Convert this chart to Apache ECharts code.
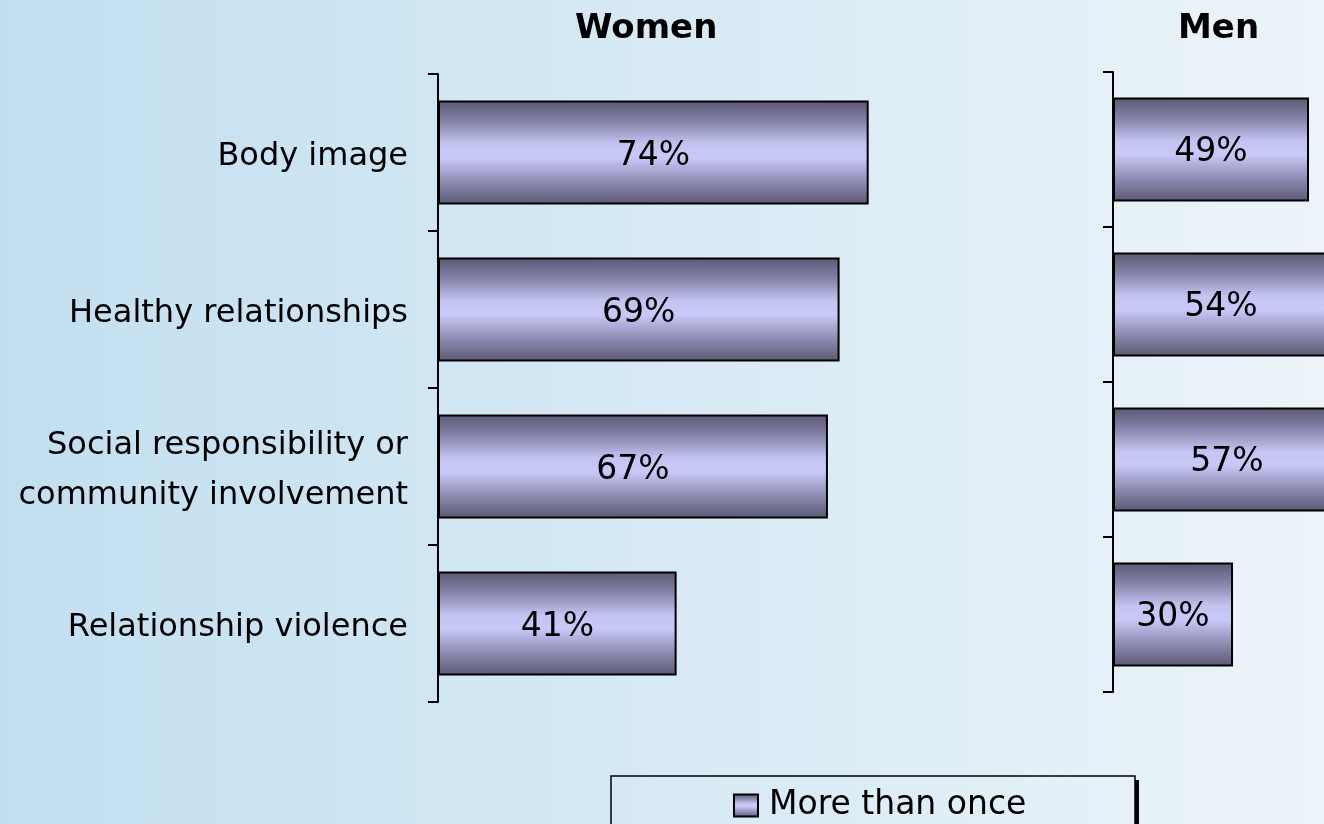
<!DOCTYPE html>
<html>
<head>
<meta charset="utf-8">
<title>More than once</title>
<script src="https://cdn.jsdelivr.net/npm/echarts@6/dist/echarts.min.js"></script>
<style>
  html, body { margin: 0; padding: 0; }
  #chart { width: 1324px; height: 824px; }
</style>
</head>
<body>
<div id="chart"></div>
<script>
// Topics, top to bottom
const categories = [
  'Body image',
  'Healthy relationships',
  'Social responsibility or\ncommunity involvement',
  'Relationship violence'
];
const panelTitles = ['Women', 'Men'];
const seriesName = 'More than once';
const womenValues = [74, 69, 67, 41];
const menValues = [49, 54, 57, 30];

const FONT = 'DejaVu Sans';

const barFill = new echarts.graphic.LinearGradient(0, 0, 0, 1, [
  { offset: 0, color: '#5a5872' },
  { offset: 0.2, color: '#8483a8' },
  { offset: 0.42, color: '#c4c4f2' },
  { offset: 0.55, color: '#c9c9f9' },
  { offset: 0.78, color: '#8d8cb2' },
  { offset: 1, color: '#5a5872' }
]);

function catAxis(gridIndex, showLabels) {
  return {
    type: 'category',
    gridIndex: gridIndex,
    data: categories,
    inverse: true,
    axisLine: { show: true, lineStyle: { color: '#000', width: 2 } },
    axisTick: { show: true, length: 10, lineStyle: { color: '#000', width: 2 } },
    axisLabel: {
      show: showLabels,
      margin: 30,
      align: 'right',
      // each line sits a little below the line box centre
      formatter: function (v) {
        return v.split('\n').map(function (s) { return '{t|' + s + '}'; }).join('\n');
      },
      rich: {
        t: {
          color: '#000',
          fontFamily: FONT,
          fontSize: 32,
          lineHeight: 50,
          padding: [8, 0, 0, 0],
          align: 'right'
        }
      }
    }
  };
}

// Women: 0-100 over 582px; Men: same 4px-per-point scale, running off the right edge
function valAxis(gridIndex, max) {
  return {
    type: 'value',
    gridIndex: gridIndex,
    min: 0,
    max: max,
    show: false,
    splitLine: { show: false }
  };
}

function barSeries(idx, values, dy) {
  return {
    name: seriesName,
    type: 'bar',
    xAxisIndex: idx,
    yAxisIndex: idx,
    data: values,
    barWidth: 104,
    clip: false,
    itemStyle: { color: barFill, borderColor: '#000', borderWidth: 2 },
    label: {
      show: true,
      position: 'inside',
      offset: [0, dy],
      formatter: '{c}%',
      color: '#000',
      fontFamily: FONT,
      fontSize: 33
    },
    emphasis: { disabled: true }
  };
}

const chart = echarts.init(document.getElementById('chart'), null, { renderer: 'canvas' });

chart.setOption({
  animation: false,
  backgroundColor: new echarts.graphic.LinearGradient(0, 0, 1, 0, [
    { offset: 0, color: '#c2dff0' },
    { offset: 1, color: '#ecf4f9' }
  ]),
  grid: [
    { left: 438, top: 74, width: 582, height: 628 },
    { left: 1113, top: 72, width: 211, height: 620 }
  ],
  xAxis: [valAxis(0, 100), valAxis(1, 52.75)],
  yAxis: [catAxis(0, true), catAxis(1, false)],
  legend: {
    data: [seriesName],
    left: 728,
    top: 784,
    icon: 'rect',
    itemWidth: 24,
    itemHeight: 22,
    textStyle: {
      color: '#000',
      fontFamily: FONT,
      fontSize: 33,
      padding: [0, 0, 0, 6]
    },
    selectedMode: false
  },
  graphic: [
    {
      type: 'text',
      left: 575,
      top: 12,
      style: { text: panelTitles[0], font: 'bold 34px "DejaVu Sans"', fill: '#000' }
    },
    {
      type: 'text',
      left: 1178,
      top: 12,
      style: { text: panelTitles[1], font: 'bold 34px "DejaVu Sans"', fill: '#000' }
    },
    {
      type: 'rect',
      z: -1,
      shape: { x: 1135, y: 780, width: 4, height: 60 },
      style: { fill: '#000' }
    },
    {
      type: 'rect',
      z: -1,
      shape: { x: 611, y: 776, width: 524, height: 70 },
      style: { fill: 'none', stroke: '#000', lineWidth: 1.5 }
    }
  ],
  series: [barSeries(0, womenValues, 4), barSeries(1, menValues, 3)]
});
</script>
</body>
</html>
